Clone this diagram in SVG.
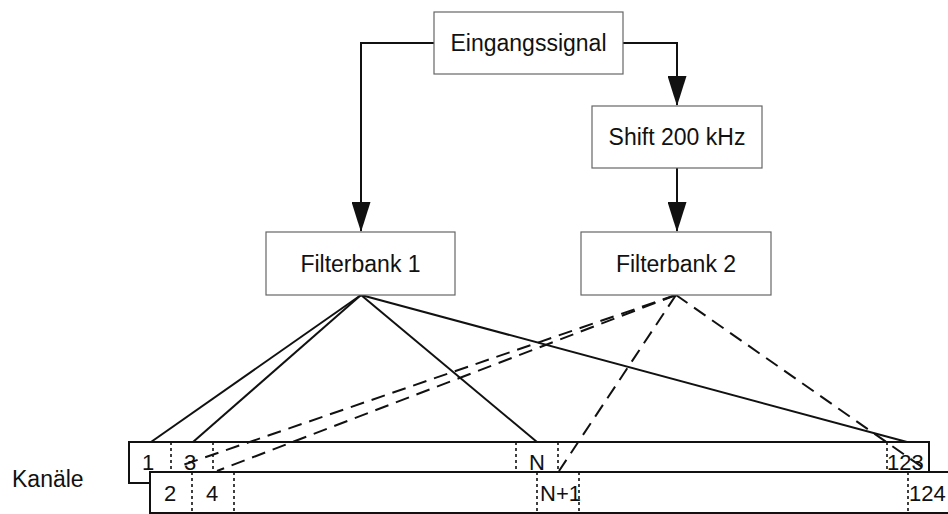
<svg xmlns="http://www.w3.org/2000/svg" width="948" height="514" viewBox="0 0 948 514">
  <style>
    .box { fill: #ffffff; stroke: #666666; stroke-width: 1.2; }
    .lbl { font-family: "Liberation Sans", Arial, sans-serif; font-size: 23px; fill: #111111; }
    .num { font-family: "Liberation Sans", Arial, sans-serif; font-size: 22px; fill: #111111; }
    .row { fill: #ffffff; stroke: #111111; stroke-width: 2; }
    .flow { fill: none; stroke: #111111; stroke-width: 2; }
    .solid { stroke: #111111; stroke-width: 2; fill: none; }
    .dash { stroke: #111111; stroke-width: 2; fill: none; stroke-dasharray: 14 8; }
    .sep { stroke: #111111; stroke-width: 1.6; stroke-dasharray: 3 3; }
  </style>
  <defs>
    <marker id="arrow" markerUnits="userSpaceOnUse" markerWidth="30" markerHeight="19" refX="29" refY="9.5" orient="auto" viewBox="0 0 30 19">
      <polygon points="0,0 30,9.5 0,19" fill="#111111"/>
    </marker>
  </defs>

  <!-- channel rows -->
  <g id="rows">
    <rect class="row" x="129" y="442" width="800" height="41"/>
    <rect class="row" x="150" y="472" width="820" height="41"/>
    <line class="sep" x1="171" y1="442" x2="171" y2="472"/>
    <line class="sep" x1="213" y1="442" x2="213" y2="472"/>
    <line class="sep" x1="516" y1="442" x2="516" y2="472"/>
    <line class="sep" x1="558" y1="442" x2="558" y2="472"/>
    <line class="sep" x1="887" y1="442" x2="887" y2="472"/>
    <line class="sep" x1="192" y1="472" x2="192" y2="514"/>
    <line class="sep" x1="234" y1="472" x2="234" y2="514"/>
    <line class="sep" x1="537" y1="472" x2="537" y2="514"/>
    <line class="sep" x1="579" y1="472" x2="579" y2="514"/>
    <line class="sep" x1="908" y1="472" x2="908" y2="514"/>
  </g>

  <!-- connectors -->
  <g id="connectors">
    <polyline class="flow" points="434,43 361,43 361,231" marker-end="url(#arrow)"/>
    <polyline class="flow" points="623,43 677,43 677,105" marker-end="url(#arrow)"/>
    <line class="flow" x1="677" y1="168" x2="677" y2="231" marker-end="url(#arrow)"/>

    <!-- Filterbank 1 to channels -->
    <line class="solid" x1="361" y1="295" x2="151" y2="442"/>
    <line class="solid" x1="361" y1="295" x2="193" y2="442"/>
    <line class="solid" x1="361" y1="295" x2="537" y2="442"/>
    <line class="solid" x1="361" y1="295" x2="907" y2="442"/>

    <!-- Filterbank 2 to channels -->
    <line class="dash" x1="676" y1="295" x2="177" y2="467"/>
    <line class="dash" x1="676" y1="295" x2="217" y2="471"/>
    <line class="dash" x1="676" y1="295" x2="559" y2="471"/>
    <line class="dash" x1="676" y1="295" x2="922" y2="467"/>
  </g>

  <g id="eingangssignal">
    <rect class="box" x="434" y="12" width="189" height="62"/>
    <text class="lbl" x="528.5" y="51" text-anchor="middle">Eingangssignal</text>
  </g>
  <g id="shift">
    <rect class="box" x="592" y="106" width="170" height="62"/>
    <text class="lbl" x="677" y="145" text-anchor="middle">Shift 200 kHz</text>
  </g>
  <g id="filterbank1">
    <rect class="box" x="266" y="232" width="189" height="63"/>
    <text class="lbl" x="360.5" y="272" text-anchor="middle">Filterbank 1</text>
  </g>
  <g id="filterbank2">
    <rect class="box" x="581" y="232" width="190" height="63"/>
    <text class="lbl" x="676" y="272" text-anchor="middle">Filterbank 2</text>
  </g>

  <g id="labels">
    <text class="lbl" x="12" y="487">Kanäle</text>
    <text class="num" x="142" y="470">1</text>
    <text class="num" x="184" y="470">3</text>
    <text class="num" x="529" y="470">N</text>
    <text class="num" x="887" y="470">123</text>
    <text class="num" x="164" y="501">2</text>
    <text class="num" x="206" y="501">4</text>
    <text class="num" x="540" y="501">N+1</text>
    <text class="num" x="909" y="501">124</text>
  </g>
</svg>
